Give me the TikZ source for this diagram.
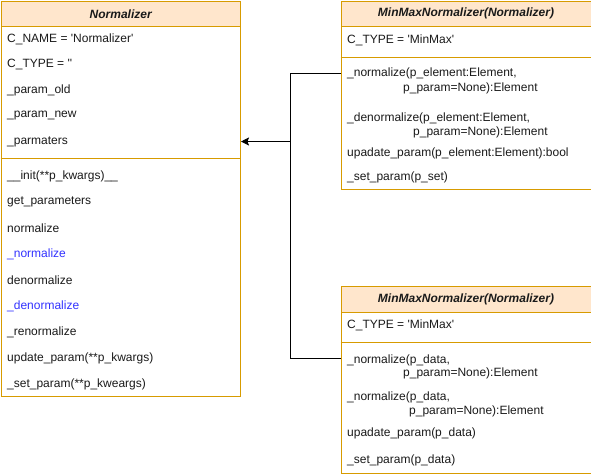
\documentclass[tikz,border=0pt]{standalone}
\usepackage{fontspec}
\setmainfont{Liberation Sans}[Ligatures=TeXOff]
\usetikzlibrary{arrows.meta}
\definecolor{hdrfill}{HTML}{FFE6CC}
\definecolor{hdrdraw}{HTML}{D79B00}
\definecolor{txt}{HTML}{1A1A1A}
\definecolor{blu}{HTML}{3333FF}
\begin{document}
\begin{tikzpicture}[x=1pt,y=-1pt,
  box/.style={draw=hdrdraw, line width=1pt, fill=white, inner sep=0pt, anchor=north west},
  hdr/.style={draw=hdrdraw, line width=1pt, fill=hdrfill, inner sep=0pt, anchor=north west, minimum height=25.5pt, font=\fontsize{12}{14}\selectfont\bfseries\itshape, text=txt},
  sep/.style={draw=hdrdraw, line width=1pt},
  item/.style={anchor=west, inner sep=0pt, font=\fontsize{12}{14}\selectfont, text=txt},
  bitem/.style={item, text=blu},
  conn/.style={draw=black, line width=1pt}
]
\useasboundingbox (0,0) rectangle (591,475);
% Left class
\node[box, minimum width=239.5pt, minimum height=395.5pt] (L) at (0.5,0.5) {};
\node[hdr, minimum width=239.5pt] (Lh) at (0.5,0.5) {Normalizer};
\draw[sep] (L.west |- 0,158) -- (L.east |- 0,158);
\node[item] (l1) at (7,39) {C\_NAME = 'Normalizer'};
\node[item] (l2) at (7,64) {C\_TYPE = ''};
\node[item] (l3) at (7,90) {\_param\_old};
\node[item] (l4) at (7,116) {\_param\_new};
\node[item] (l5) at (7,142) {\_parmaters};
\node[item] (m1) at (7,176) {\_\_init(**p\_kwargs)\_\_};
\node[item] (m2) at (7,202) {get\_parameters};
\node[item] (m3) at (7,228) {normalize};
\node[bitem] (m4) at (7,254) {\_normalize};
\node[item] (m5) at (7,280) {denormalize};
\node[bitem] (m6) at (7,306) {\_denormalize};
\node[item] (m7) at (7,332) {\_renormalize};
\node[item] (m8) at (7,358) {update\_param(**p\_kwargs)};
\node[item] (m9) at (7,384) {\_set\_param(**p\_kweargs)};
% Top right class
\node[box, minimum width=250pt, minimum height=188pt] (T) at (340.5,0.5) {};
\node[hdr, minimum width=250pt] (Th) at (340.5,0.5) {MinMaxNormalizer(Normalizer)};
\draw[sep] (T.west |- 0,57) -- (T.east |- 0,57);
\node[item] (t1) at (347,40) {C\_TYPE = 'MinMax'};
\node[item] (t2) at (347,73) {\_normalize(p\_element:Element,};
\node[item] (t2b) at (403,88) {p\_param=None):Element};
\node[item] (t3) at (347,118) {\_denormalize(p\_element:Element,};
\node[item] (t3b) at (413,132) {p\_param=None):Element};
\node[item] (t4) at (347,153) {upadate\_param(p\_element:Element):bool};
\node[item] (t5) at (347,177) {\_set\_param(p\_set)};
% Bottom right class
\node[box, minimum width=250pt, minimum height=187pt] (B) at (340.5,285.5) {};
\node[hdr, minimum width=250pt, minimum height=26.5pt] (Bh) at (340.5,285.5) {MinMaxNormalizer(Normalizer)};
\draw[sep] (B.west |- 0,342) -- (B.east |- 0,342);
\node[item] (b1) at (347,325) {C\_TYPE = 'MinMax'};
\node[item] (b2) at (347,360) {\_normalize(p\_data,};
\node[item] (b2b) at (403,373) {p\_param=None):Element};
\node[item] (b3) at (347,397) {\_normalize(p\_data,};
\node[item] (b3b) at (409,411) {p\_param=None):Element};
\node[item] (b4) at (347,433) {upadate\_param(p\_data)};
\node[item] (b5) at (347,460) {\_set\_param(p\_data)};
% Connectors
\coordinate (J) at (290.5,141.5);
\draw[conn] (T.west |- 0,73.5) -| (J);
\draw[conn] (B.west |- 0,358.5) -| (J);
\draw[conn, -{Stealth[length=8pt,width=8pt,inset=1.5pt]}] (J) -- (L.east |- J);
\end{tikzpicture}
\end{document}
